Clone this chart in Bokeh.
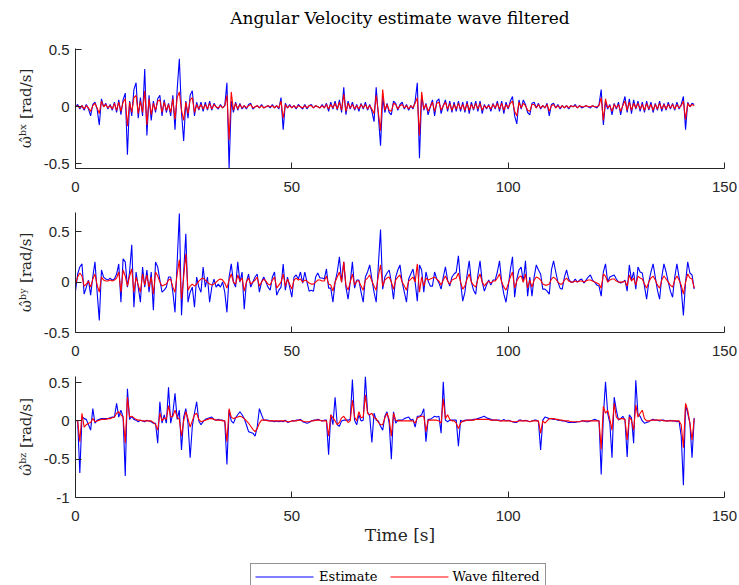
import numpy as np
from bokeh.plotting import figure
from bokeh.layouts import column
from bokeh.models import (Range1d, FixedTicker, CustomJSTickFormatter, Legend,
                          LegendItem, Title)
from bokeh.embed import file_html
from bokeh.resources import INLINE

# ---------------- data (sample step 0.5 s) ----------------
DT = 0.5

bx_est = [
    0.00, 0.02, -0.02, 0.01, -0.03, 0.02, -0.02, -0.08, 0.02, 0.04, -0.02, -0.16, 0.07, 0.00, 0.03, -0.02, 0.02, -0.03, 0.04, -0.05,
    0.06, -0.07, 0.06, 0.12, -0.42, 0.05, -0.08, 0.15, 0.21, -0.10, 0.08, -0.08, 0.33, -0.25, 0.10, -0.12, 0.05, -0.05, 0.07, 0.10,
    -0.08, 0.06, -0.05, 0.03, -0.08, 0.10, -0.20, 0.15, 0.42, -0.05, -0.30, 0.05, -0.10, 0.10, 0.14, -0.08, 0.04, -0.03, 0.04, -0.04,
    0.04, -0.03, 0.05, -0.03, 0.03, 0.00, -0.02, 0.02, -0.01, 0.01, 0.21, -0.54, 0.05, -0.05, 0.04, -0.03, 0.03, -0.02, 0.01, -0.02,
    0.02, 0.03, -0.02, 0.00, 0.01, -0.01, 0.02, -0.01, 0.00, 0.01, -0.01, 0.02, -0.01, 0.01, -0.02, 0.08, -0.20, 0.03, -0.01, 0.02,
    -0.01, 0.01, -0.02, 0.02, 0.00, -0.02, 0.02, -0.02, 0.01, 0.02, -0.01, 0.01, 0.00, -0.01, 0.02, -0.01, 0.03, -0.04, 0.04, -0.02,
    0.05, -0.03, 0.06, -0.05, 0.17, -0.07, 0.05, -0.02, 0.04, -0.03, 0.02, -0.04, 0.03, -0.02, 0.04, -0.03, 0.02, -0.04, -0.13, 0.17,
    -0.08, -0.34, 0.08, -0.05, 0.03, -0.05, -0.07, 0.05, 0.03, -0.03, 0.02, 0.04, -0.02, 0.02, -0.03, 0.01, -0.02, 0.05, 0.21, -0.45,
    0.10, -0.03, 0.03, -0.07, 0.00, 0.06, -0.08, 0.05, 0.07, -0.06, 0.01, 0.06, -0.04, 0.05, -0.05, 0.04, -0.04, 0.05, -0.04, 0.04,
    -0.05, 0.05, -0.06, 0.04, -0.03, 0.05, -0.04, 0.05, -0.06, 0.02, -0.02, 0.02, -0.04, 0.03, -0.02, 0.05, -0.04, 0.05, -0.06, 0.04,
    -0.02, 0.05, 0.09, -0.08, -0.15, 0.06, -0.02, 0.06, 0.02, -0.05, -0.07, 0.03, 0.04, -0.01, 0.03, -0.02, 0.01, -0.01, 0.03, -0.08,
    0.02, 0.03, -0.01, 0.02, -0.02, 0.01, -0.01, 0.01, -0.02, 0.01, 0.00, 0.02, -0.01, 0.01, -0.01, 0.00, 0.01, 0.00, -0.01, 0.01,
    0.00, -0.01, 0.02, 0.15, -0.16, 0.04, -0.02, 0.02, -0.07, 0.03, -0.02, 0.04, -0.07, 0.02, 0.09, -0.05, 0.07, -0.06, 0.06, -0.02,
    0.05, -0.04, 0.04, -0.05, 0.05, -0.03, 0.04, -0.05, 0.03, -0.03, 0.05, -0.04, 0.03, -0.03, 0.04, -0.02, 0.03, -0.03, 0.04, -0.02,
    0.02, 0.09, -0.20, 0.04, 0.00, 0.03, 0.02,
]
bx_filt = [
    0.00, 0.01, -0.01, 0.01, -0.02, 0.01, -0.01, -0.04, 0.01, 0.03, -0.01, -0.06, 0.05, 0.00, 0.02, -0.01, 0.01, -0.02, 0.03, -0.03,
    0.04, -0.04, 0.04, 0.07, -0.17, 0.04, -0.05, 0.08, 0.10, -0.06, 0.05, -0.05, 0.14, -0.16, 0.07, -0.07, 0.03, -0.03, 0.05, 0.06,
    -0.05, 0.04, -0.03, 0.02, -0.05, 0.07, -0.11, 0.08, 0.13, -0.03, -0.12, 0.04, -0.06, 0.06, 0.08, -0.05, 0.02, -0.02, 0.02, -0.02,
    0.02, -0.02, 0.03, -0.02, 0.02, 0.00, -0.01, 0.01, -0.01, 0.01, 0.10, -0.29, 0.13, -0.03, 0.03, -0.02, 0.02, -0.01, 0.01, -0.01,
    0.01, 0.02, -0.01, 0.00, 0.01, -0.01, 0.01, -0.01, 0.00, 0.01, 0.00, 0.01, -0.01, 0.01, -0.01, 0.05, -0.10, 0.02, -0.01, 0.01,
    -0.01, 0.01, -0.01, 0.01, 0.00, -0.01, 0.01, -0.01, 0.01, 0.01, -0.01, 0.01, 0.00, -0.01, 0.01, -0.01, 0.02, -0.02, 0.02, -0.01,
    0.03, -0.02, 0.04, -0.03, 0.11, -0.04, 0.03, -0.01, 0.02, -0.02, 0.01, -0.02, 0.02, -0.01, 0.02, -0.02, 0.01, -0.02, -0.06, 0.10,
    -0.05, -0.21, 0.15, -0.03, 0.02, -0.03, -0.04, 0.03, 0.02, -0.02, 0.01, 0.02, -0.01, 0.01, -0.02, 0.01, -0.01, 0.03, 0.08, -0.25,
    0.13, -0.02, 0.02, -0.04, 0.00, 0.04, -0.04, 0.03, 0.04, -0.03, 0.01, 0.04, -0.02, 0.03, -0.03, 0.02, -0.02, 0.03, -0.02, 0.02,
    -0.03, 0.03, -0.03, 0.02, -0.02, 0.03, -0.02, 0.03, -0.03, 0.01, -0.01, 0.01, -0.02, 0.02, -0.01, 0.03, -0.02, 0.03, -0.03, 0.02,
    -0.01, 0.03, 0.05, -0.04, -0.08, 0.04, -0.01, 0.03, 0.01, -0.03, -0.04, 0.02, 0.02, -0.01, 0.02, -0.01, 0.01, -0.01, 0.02, -0.04,
    0.01, 0.02, -0.01, 0.01, -0.01, 0.01, -0.01, 0.01, -0.01, 0.01, 0.00, 0.01, -0.01, 0.01, 0.00, 0.00, 0.01, 0.00, 0.00, 0.01,
    0.00, 0.00, 0.01, 0.08, -0.12, 0.07, -0.01, 0.01, -0.04, 0.02, -0.01, 0.02, -0.04, 0.01, 0.05, -0.03, 0.04, -0.03, 0.03, -0.01,
    0.03, -0.02, 0.02, -0.03, 0.03, -0.02, 0.02, -0.03, 0.02, -0.02, 0.03, -0.02, 0.02, -0.02, 0.02, -0.01, 0.02, -0.02, 0.02, -0.01,
    0.01, 0.05, -0.11, 0.03, 0.00, 0.02, 0.01,
]
by_est = [
    -0.09, 0.08, 0.15, 0.18, -0.12, -0.05, 0.02, -0.13, 0.05, 0.20, -0.10, -0.38, 0.12, 0.05, 0.03, 0.02, 0.04, 0.02, 0.03, 0.08,
    0.18, -0.20, 0.23, 0.20, -0.05, 0.10, 0.37, -0.25, 0.10, -0.05, -0.20, 0.15, -0.05, 0.12, -0.10, 0.10, -0.28, 0.20, 0.15, 0.02,
    -0.10, -0.08, -0.05, 0.05, 0.05, -0.10, -0.30, 0.20, 0.68, -0.33, 0.10, 0.48, -0.20, -0.10, -0.05, -0.25, 0.05, -0.05, -0.10, 0.15,
    -0.05, 0.05, -0.20, -0.05, 0.03, -0.05, -0.02, -0.05, 0.00, -0.10, -0.30, 0.05, 0.18, 0.00, -0.05, 0.20, 0.00, 0.10, -0.27, 0.00,
    0.08, -0.05, 0.00, 0.05, 0.08, -0.10, 0.00, 0.05, 0.00, -0.05, -0.08, 0.05, 0.10, -0.13, -0.08, -0.05, 0.18, -0.08, 0.05, -0.05,
    -0.15, 0.05, 0.07, 0.03, 0.10, -0.01, 0.10, 0.00, -0.09, -0.08, -0.09, 0.05, 0.09, 0.04, 0.04, 0.03, 0.13, -0.06, -0.06, -0.20,
    0.00, 0.10, 0.25, 0.00, 0.20, -0.05, -0.17, 0.00, 0.20, -0.06, 0.02, 0.02, -0.10, -0.20, 0.05, 0.10, 0.17, 0.03, -0.10, -0.20,
    0.17, 0.52, -0.07, 0.05, 0.09, 0.12, 0.00, -0.17, 0.05, 0.12, 0.17, 0.00, -0.10, -0.20, 0.03, 0.08, 0.13, 0.00, -0.19, 0.17,
    0.12, -0.10, 0.10, 0.01, -0.04, -0.04, 0.10, 0.03, -0.01, -0.07, 0.05, 0.15, 0.02, -0.04, 0.05, 0.08, 0.10, 0.26, 0.00, -0.19,
    -0.10, 0.07, 0.21, 0.00, -0.08, -0.12, 0.07, 0.21, 0.00, -0.09, -0.03, 0.02, -0.03, 0.02, 0.02, 0.10, 0.21, 0.00, -0.12, -0.20,
    -0.05, 0.12, 0.25, -0.15, 0.03, 0.12, 0.15, 0.00, 0.21, -0.14, 0.05, -0.14, 0.05, 0.17, 0.12, 0.08, -0.07, -0.07, -0.09, -0.12,
    0.12, 0.21, 0.10, 0.00, -0.06, -0.07, 0.05, 0.12, 0.03, 0.00, 0.00, 0.03, 0.00, 0.02, 0.03, -0.01, 0.02, 0.05, 0.07, 0.02,
    0.00, -0.03, -0.04, -0.14, 0.10, 0.18, 0.00, 0.05, 0.06, 0.07, 0.03, 0.00, -0.01, 0.00, 0.02, -0.09, 0.17, 0.02, 0.10, -0.07,
    0.15, 0.10, 0.09, -0.04, -0.17, 0.00, 0.10, 0.18, 0.05, -0.08, -0.17, 0.05, 0.18, 0.10, 0.00, -0.09, -0.15, 0.05, 0.18, 0.05,
    -0.07, -0.33, 0.00, 0.20, 0.09, 0.07, -0.07,
]
by_filt = [
    -0.02, 0.05, 0.09, 0.06, -0.04, -0.02, 0.01, -0.05, 0.03, 0.08, -0.03, -0.10, 0.05, 0.02, 0.01, 0.01, 0.02, 0.01, 0.02, 0.04,
    0.10, -0.10, 0.12, 0.06, -0.04, 0.06, 0.13, -0.10, 0.05, -0.03, -0.10, 0.08, -0.03, 0.07, -0.05, 0.05, -0.12, 0.10, 0.06, 0.00,
    -0.04, -0.03, -0.02, 0.02, 0.03, -0.05, -0.10, 0.08, 0.22, -0.17, 0.05, 0.28, -0.08, -0.04, -0.02, -0.04, -0.02, 0.01, 0.03, 0.04,
    0.02, 0.00, -0.02, -0.03, -0.02, 0.00, 0.02, 0.03, 0.02, -0.01, -0.06, 0.02, 0.08, 0.00, -0.02, 0.07, 0.01, 0.04, -0.09, 0.00,
    0.04, -0.02, 0.00, 0.02, 0.05, -0.04, 0.00, 0.03, 0.01, -0.02, -0.03, 0.02, 0.05, -0.06, -0.03, 0.00, 0.08, -0.04, 0.03, -0.02,
    -0.07, 0.02, 0.04, 0.02, 0.03, 0.00, 0.02, 0.01, -0.01, -0.02, -0.02, 0.00, 0.02, 0.02, 0.01, 0.01, 0.06, -0.02, -0.03, -0.09,
    0.00, 0.05, 0.10, 0.00, 0.20, -0.03, -0.08, 0.00, 0.08, -0.03, 0.01, 0.01, -0.04, -0.08, 0.02, 0.04, 0.07, 0.01, -0.04, -0.08,
    0.06, 0.17, -0.04, 0.02, 0.04, 0.05, 0.00, -0.07, 0.02, 0.05, 0.07, 0.00, -0.04, -0.08, 0.01, 0.03, 0.05, 0.00, 0.18, -0.10,
    0.05, -0.04, 0.04, 0.02, 0.03, 0.04, 0.05, 0.03, 0.01, -0.03, 0.02, 0.06, 0.01, -0.02, 0.02, 0.03, 0.04, 0.09, 0.00, -0.07,
    -0.04, 0.03, 0.08, 0.00, -0.03, -0.05, 0.03, 0.08, 0.00, -0.04, -0.01, 0.01, -0.01, 0.01, 0.01, 0.04, 0.08, 0.00, -0.05, -0.08,
    -0.02, 0.05, 0.10, -0.06, 0.01, 0.05, 0.06, 0.00, 0.08, -0.06, 0.02, -0.05, 0.02, 0.05, 0.04, 0.02, -0.02, -0.03, -0.03, -0.02,
    0.03, 0.05, 0.03, 0.00, -0.02, -0.02, 0.02, 0.04, 0.01, 0.00, 0.00, 0.01, 0.00, 0.01, 0.01, 0.00, 0.01, 0.02, 0.02, 0.01,
    0.00, -0.01, -0.02, -0.06, 0.08, 0.06, 0.00, 0.02, 0.03, 0.03, 0.01, 0.00, 0.00, 0.00, 0.01, -0.04, 0.07, 0.01, 0.04, -0.03,
    0.06, 0.04, 0.03, -0.02, -0.06, 0.00, 0.04, 0.06, 0.02, -0.03, -0.06, 0.02, 0.06, 0.03, 0.00, -0.03, -0.05, 0.02, 0.06, 0.02,
    -0.03, -0.12, 0.00, 0.08, 0.04, 0.03, -0.06,
]
bz_est = [
    0.01, 0.00, -0.68, 0.06, 0.03, 0.02, -0.05, -0.12, 0.16, -0.03, 0.01, 0.02, 0.03, 0.03, 0.03, 0.03, 0.04, 0.05, 0.05, 0.23,
    0.05, 0.14, 0.05, -0.72, 0.42, 0.02, 0.06, 0.02, 0.01, -0.01, 0.01, 0.00, -0.01, 0.01, 0.00, -0.01, -0.03, -0.03, -0.29, 0.25,
    -0.03, 0.08, -0.03, 0.44, -0.03, 0.10, 0.36, 0.02, 0.14, -0.38, 0.05, 0.16, -0.03, -0.48, -0.07, 0.10, 0.25, 0.00, -0.05, -0.01,
    0.02, 0.03, 0.04, 0.05, 0.02, 0.01, 0.02, 0.01, 0.01, 0.00, -0.57, 0.14, 0.00, -0.03, 0.04, 0.08, 0.12, 0.08, 0.03, -0.05,
    -0.14, -0.15, -0.16, -0.20, -0.08, 0.16, 0.08, 0.01, 0.01, 0.01, 0.00, 0.00, -0.01, 0.00, -0.01, 0.00, -0.01, 0.01, -0.02, -0.01,
    0.00, 0.00, 0.01, 0.01, 0.02, -0.01, -0.02, -0.03, -0.02, 0.00, 0.01, 0.01, 0.02, 0.01, 0.00, 0.01, 0.01, -0.44, 0.08, -0.05,
    0.31, -0.05, -0.07, 0.00, 0.01, 0.01, 0.01, 0.02, 0.54, 0.01, -0.05, 0.08, 0.00, 0.01, 0.58, 0.12, 0.06, -0.28, 0.10, 0.01,
    0.00, -0.07, -0.12, 0.06, 0.12, -0.03, -0.50, 0.12, -0.03, 0.01, 0.01, 0.01, 0.03, 0.04, 0.05, 0.01, 0.02, -0.08, 0.06, 0.06,
    0.08, 0.16, -0.27, 0.02, 0.02, 0.04, 0.06, 0.05, 0.06, -0.16, 0.51, 0.01, -0.01, 0.01, 0.01, 0.01, 0.01, -0.33, 0.01, -0.01,
    0.01, 0.01, 0.01, 0.01, 0.02, 0.02, 0.03, 0.04, 0.05, 0.06, 0.04, 0.03, 0.02, 0.01, 0.01, 0.01, 0.01, 0.00, 0.02, 0.00,
    0.01, 0.00, -0.01, -0.02, -0.02, 0.01, 0.01, 0.00, 0.01, 0.00, -0.01, 0.00, 0.01, 0.01, -0.01, -0.38, 0.01, 0.05, 0.04, 0.03,
    0.03, 0.02, 0.02, 0.01, 0.01, 0.00, 0.00, -0.01, -0.02, -0.02, -0.02, -0.02, -0.01, -0.01, 0.00, 0.00, -0.01, -0.01, 0.00, 0.01,
    0.02, 0.01, 0.00, -0.70, 0.06, 0.51, 0.10, -0.03, -0.48, 0.31, 0.14, 0.01, 0.03, 0.06, 0.01, -0.47, 0.08, 0.04, -0.29, 0.53,
    0.08, 0.06, 0.00, -0.03, -0.02, -0.01, 0.01, 0.02, 0.01, 0.01, 0.00, 0.01, 0.01, 0.00, 0.00, 0.01, 0.00, 0.00, -0.01, 0.00,
    -0.20, -0.84, 0.21, 0.10, -0.03, -0.48, 0.04,
]
bz_filt = [
    0.01, 0.00, -0.27, 0.10, -0.08, -0.05, -0.03, -0.02, 0.03, -0.01, 0.00, 0.01, 0.02, 0.02, 0.02, 0.03, 0.03, 0.04, 0.05, 0.10,
    0.12, 0.08, 0.05, -0.29, 0.31, 0.05, 0.06, 0.04, 0.02, 0.01, 0.01, 0.00, 0.00, 0.00, 0.00, 0.00, -0.02, -0.05, -0.12, 0.10,
    0.00, 0.04, 0.02, 0.20, 0.05, 0.06, 0.14, 0.05, 0.02, -0.20, 0.00, 0.12, 0.03, -0.08, 0.00, 0.08, 0.10, 0.02, -0.01, 0.00,
    0.01, 0.02, 0.03, 0.03, 0.02, 0.01, 0.01, 0.01, 0.00, 0.00, -0.27, 0.16, 0.05, 0.03, 0.04, 0.05, 0.06, 0.05, 0.03, 0.00,
    -0.03, -0.07, -0.11, -0.14, -0.10, -0.03, 0.01, 0.01, 0.01, 0.00, 0.00, 0.00, 0.00, 0.00, 0.00, 0.00, 0.00, 0.00, -0.01, -0.01,
    0.00, 0.00, 0.00, 0.01, 0.01, 0.00, -0.01, -0.01, -0.01, 0.00, 0.00, 0.01, 0.01, 0.01, 0.00, 0.00, 0.00, -0.20, 0.08, 0.04,
    0.00, -0.05, -0.02, 0.04, 0.06, 0.02, -0.02, 0.00, 0.27, 0.05, 0.00, 0.12, 0.04, 0.05, 0.34, 0.10, 0.08, 0.10, 0.04, 0.03,
    -0.02, -0.05, -0.05, 0.04, 0.10, 0.02, -0.20, 0.10, 0.01, 0.00, 0.00, 0.00, 0.00, 0.00, 0.00, 0.00, 0.00, -0.03, 0.04, 0.05,
    0.06, 0.06, -0.14, 0.01, 0.01, 0.01, 0.01, 0.01, 0.00, -0.03, 0.29, 0.03, 0.08, 0.02, 0.00, 0.00, -0.03, -0.10, -0.03, 0.00,
    0.00, 0.01, 0.01, 0.01, 0.01, 0.02, 0.02, 0.02, 0.02, 0.02, 0.02, 0.02, 0.01, 0.01, 0.01, 0.01, 0.00, 0.00, 0.00, 0.00,
    0.00, 0.00, -0.01, -0.01, -0.01, 0.00, 0.00, 0.00, 0.00, 0.00, -0.01, 0.00, 0.00, 0.00, 0.00, -0.16, 0.00, -0.03, 0.00, 0.03,
    0.03, 0.03, 0.02, 0.02, 0.01, 0.01, 0.00, 0.00, 0.00, -0.01, -0.01, -0.01, -0.01, -0.01, 0.00, 0.00, 0.00, 0.00, 0.00, 0.00,
    0.00, 0.00, 0.00, -0.37, 0.19, 0.10, 0.14, 0.02, -0.12, 0.23, 0.05, 0.02, 0.03, 0.03, 0.02, -0.25, 0.05, 0.01, -0.12, 0.21,
    0.05, 0.10, 0.14, 0.03, 0.00, 0.00, 0.01, 0.01, 0.01, 0.01, 0.01, 0.01, 0.00, 0.00, 0.00, 0.00, 0.00, 0.00, 0.00, 0.00,
    -0.05, -0.35, 0.23, 0.14, -0.03, -0.25, 0.03,
]

x_ticks = [0, 50, 100, 150]
y_ticks_xy = [-0.5, 0, 0.5]
y_ticks_z = [-1, -0.5, 0, 0.5]
title_text = "Angular Velocity estimate wave filtered"
x_label = "Time [s]"
y_labels = ["\u03c9\u0302\u1d47\u02e3 [rad/s]", "\u03c9\u0302\u1d47\u02b8 [rad/s]", "\u03c9\u0302\u1d47\u1dbb [rad/s]"]
series_names = ["Estimate", "Wave filtered"]

# ---------------- style ----------------
AX = "#262626"
SERIF = "DejaVu Serif"
SANS = "Liberation Sans"
BLUE = "#0000ff"
RED = "#ff0000"
W = 739

# legend strip layout (pixels inside the strip, measured from the strip's frame)
LEG_X = 175          # left edge of the legend box
LEG_PAD = 5
KEY_W = 58           # length of a key line
KEY_GAP = 135        # offset from first key to second key
KEY_Y = 8.5          # key line height above the strip bottom


def make_fig(height, top, bottom, yr, yticks, ylabel):
    p = figure(width=W, height=height, x_range=Range1d(0, 150), y_range=Range1d(*yr),
               output_backend="svg", toolbar_location=None,
               min_border_left=75, min_border_right=15,
               min_border_top=top, min_border_bottom=bottom)
    p.outline_line_color = None
    p.xgrid.visible = False
    p.ygrid.visible = False
    p.background_fill_color = "white"
    p.border_fill_color = "white"
    for ax in (p.xaxis[0], p.yaxis[0]):
        ax.major_tick_in = 6
        ax.major_tick_out = 0
        ax.minor_tick_line_color = None
        ax.axis_line_color = AX
        ax.major_tick_line_color = AX
        ax.major_label_text_font = SANS
        ax.major_label_text_font_size = "15px"
        ax.major_label_text_color = AX
        ax.formatter = CustomJSTickFormatter(code="return String(tick);")
    p.xaxis.major_label_standoff = 13
    p.yaxis.major_label_standoff = 6
    p.xaxis.ticker = FixedTicker(ticks=x_ticks)
    p.yaxis.ticker = FixedTicker(ticks=yticks)
    p.yaxis.axis_label = ylabel
    p.yaxis.axis_label_text_font = SERIF
    p.yaxis.axis_label_text_font_style = "normal"
    p.yaxis.axis_label_text_font_size = "15px"
    p.yaxis.axis_label_text_color = AX
    p.yaxis.axis_label_standoff = 6
    return p


def add_series(p, est, filt):
    t_e = np.arange(len(est)) * DT
    t_f = np.arange(len(filt)) * DT
    r1 = p.line(t_e, est, line_color=BLUE, line_width=1.1)
    r2 = p.line(t_f, filt, line_color=RED, line_width=1.1)
    return r1, r2


# subplot 1 (with figure title; a thin blank strip keeps the title up top)
p1 = make_fig(212, 48, 44, (-0.54, 0.51), y_ticks_xy, y_labels[0])
add_series(p1, bx_est, bx_filt)
p1.add_layout(Title(text=" ", text_font_size="1px", standoff=16), "above")
p1.title.text = title_text
p1.title.align = "center"
p1.title.text_font = SERIF
p1.title.text_font_style = "normal"
p1.title.text_font_size = "17px"
p1.title.text_color = "#000000"
p1.title.standoff = 4

# subplot 2
p2 = make_fig(154, 0, 34, (-0.5, 0.69), y_ticks_xy, y_labels[1])
add_series(p2, by_est, by_filt)

# subplot 3 (with x label)
p3 = make_fig(197, 10, 66, (-1.0, 0.58), y_ticks_z, y_labels[2])
add_series(p3, bz_est, bz_filt)
p3.xaxis.axis_label = x_label
p3.xaxis.axis_label_text_font = SERIF
p3.xaxis.axis_label_text_font_style = "normal"
p3.xaxis.axis_label_text_font_size = "17px"
p3.xaxis.axis_label_text_color = AX
p3.xaxis.axis_label_standoff = 1

# legend strip below the axes (pixel-unit ranges: 649 px wide frame, 22 px tall)
p4 = figure(width=W, height=22, x_range=Range1d(0, 649), y_range=Range1d(0, 22),
            output_backend="svg", toolbar_location=None, min_border=0)
p4.axis.visible = False
p4.grid.visible = False
p4.outline_line_color = None
p4.border_fill_color = "white"
p4.background_fill_color = "white"
k1 = LEG_X + LEG_PAD
k2 = k1 + KEY_GAP
p4.line([k1, k1 + KEY_W], [KEY_Y, KEY_Y], line_color=BLUE, line_width=1.1)
p4.line([k2, k2 + KEY_W], [KEY_Y, KEY_Y], line_color=RED, line_width=1.1)

legend = Legend(items=[LegendItem(label=series_names[0], renderers=[]),
                       LegendItem(label=series_names[1], renderers=[])],
                orientation="horizontal", location=(LEG_X, -5))
legend.label_text_font = SERIF
legend.label_text_font_size = "13px"
legend.label_text_color = "#000000"
legend.glyph_width = KEY_W
legend.glyph_height = 14
legend.label_standoff = 5
legend.spacing = 12
legend.padding = LEG_PAD
legend.margin = 0
legend.border_line_color = AX
legend.border_line_width = 1
legend.background_fill_alpha = 0.0
p4.add_layout(legend)

layout = column(p1, p2, p3, p4, spacing=0)

with open("out.html", "w") as f:
    f.write(file_html(layout, INLINE))
